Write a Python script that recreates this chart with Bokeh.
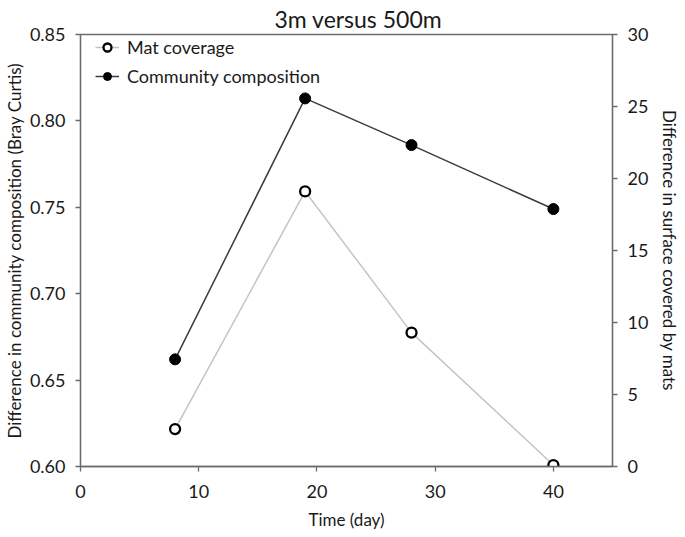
from bokeh.plotting import figure
from bokeh.models import Range1d, LinearAxis, FixedTicker, NumeralTickFormatter, Legend, LegendItem
from bokeh.embed import file_html
from bokeh.resources import INLINE

days = [8, 19, 28, 40]
community = [0.662, 0.813, 0.786, 0.749]
mat_coverage = [2.6, 19.1, 9.3, 0.1]
x_ticks = [0, 10, 20, 30, 40]
left_ticks = [0.60, 0.65, 0.70, 0.75, 0.80, 0.85]
right_ticks = [0, 5, 10, 15, 20, 25, 30]

FONT = "Lato"
TXT = "#1a1a1a"
AX = "#6b6b6b"

p = figure(frame_width=532, frame_height=432, output_backend="svg", toolbar_location=None,
           x_range=Range1d(0, 45), y_range=Range1d(0.60, 0.85),
           min_border_left=73, min_border_right=64, min_border_top=29, min_border_bottom=66,
           title="3m versus 500m")
p.title.align = "left"
p.title.offset = 194
p.title.text_font = FONT
p.title.text_font_size = "23px"
p.title.text_font_style = "normal"
p.title.text_color = TXT
p.title.standoff = 4

p.extra_y_ranges = {"mat": Range1d(0, 30)}
p.xgrid.visible = False
p.ygrid.visible = False
p.outline_line_color = AX
p.outline_line_width = 1.3
p.background_fill_color = "white"
p.border_fill_color = "white"

right = LinearAxis(y_range_name="mat")
p.add_layout(right, "right")

p.xaxis.ticker = FixedTicker(ticks=x_ticks)
p.yaxis[0].ticker = FixedTicker(ticks=left_ticks)
p.yaxis[0].formatter = NumeralTickFormatter(format="0.00")
right.ticker = FixedTicker(ticks=right_ticks)

p.xaxis.axis_label = "Time (day)"
p.yaxis[0].axis_label = "Difference in community composition (Bray Curtis)"
right.axis_label = "Difference in surface covered by mats"

for ax in [p.xaxis[0], p.yaxis[0], right]:
    ax.axis_line_color = AX
    ax.axis_line_width = 1.3
    ax.major_tick_line_color = AX
    ax.major_tick_line_width = 1.3
    ax.major_tick_out = 5
    ax.major_tick_in = 0
    ax.minor_tick_line_color = None
    ax.major_label_text_font = FONT
    ax.major_label_text_font_size = "18px"
    ax.major_label_text_color = TXT
    ax.axis_label_text_font = FONT
    ax.axis_label_text_font_size = "17px"
    ax.axis_label_text_font_style = "normal"
    ax.axis_label_text_color = TXT
p.xaxis.major_label_standoff = 13
p.xaxis.axis_label_standoff = 8
p.yaxis[0].major_label_standoff = 10
p.yaxis[0].axis_label_standoff = 2
right.major_label_standoff = 10
right.axis_label_standoff = 8

# Mat coverage (right axis)
l1 = p.line(days, mat_coverage, y_range_name="mat", line_color="#c4c4c4", line_width=1.5)
m1 = p.scatter(days, mat_coverage, y_range_name="mat", size=10, marker="circle",
               fill_color="white", line_color="black", line_width=2.3)
# Community composition (left axis)
l2 = p.line(days, community, line_color="#3a3a3a", line_width=1.5)
m2 = p.scatter(days, community, size=11, marker="circle", fill_color="black", line_color="black")

legend = Legend(items=[LegendItem(label="Mat coverage", renderers=[l1, m1]),
                       LegendItem(label="Community composition", renderers=[l2, m2])],
                location=(15, 379), margin=0, padding=2, spacing=7,
                glyph_width=24, glyph_height=20, label_height=20, label_standoff=8,
                border_line_color=None, background_fill_alpha=0,
                label_text_font=FONT, label_text_font_size="18px", label_text_color=TXT)
p.add_layout(legend, "center")

open("out.html", "w").write(file_html(p, INLINE))
